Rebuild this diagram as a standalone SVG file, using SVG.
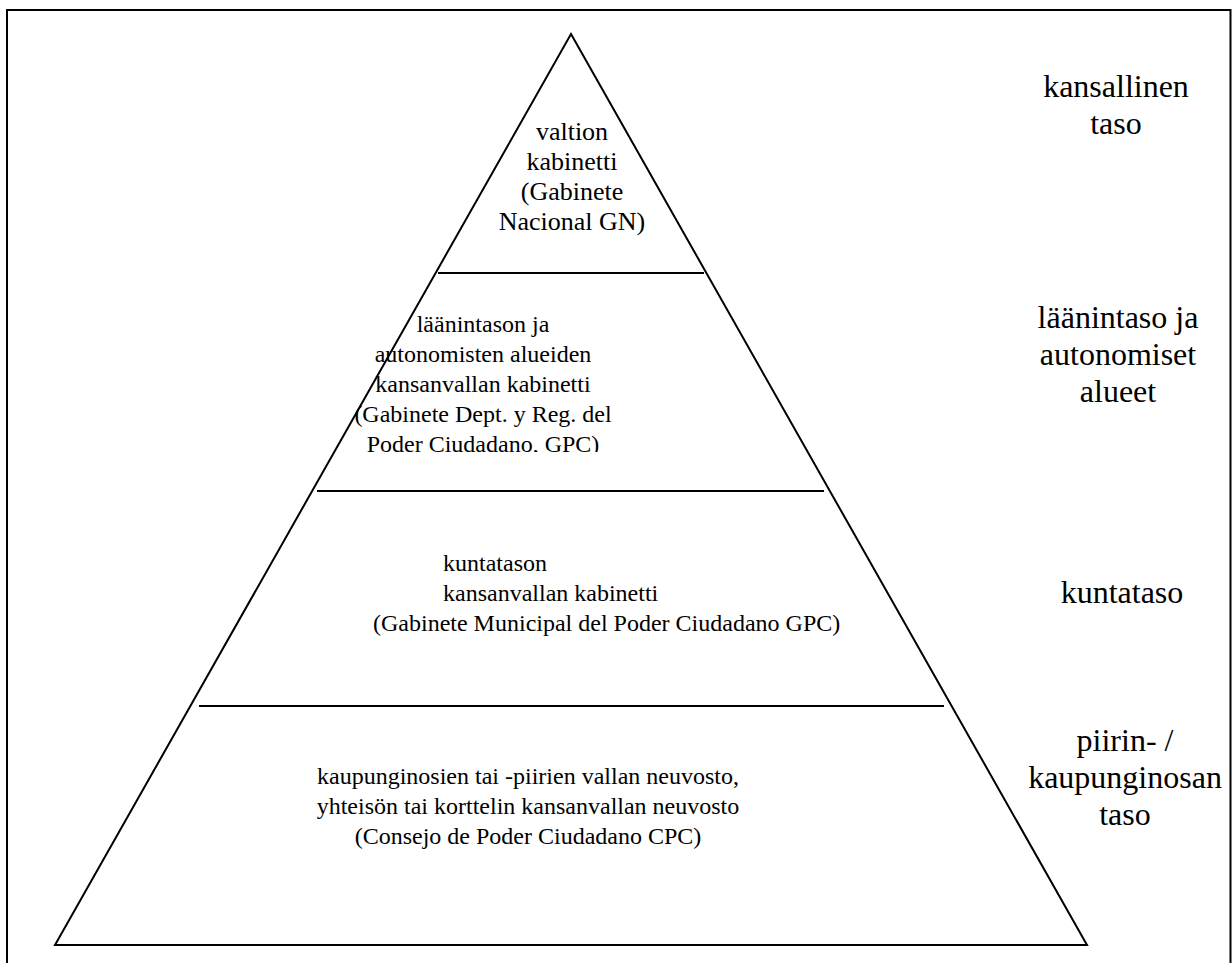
<svg xmlns="http://www.w3.org/2000/svg" width="1232" height="963" viewBox="0 0 1232 963">
<style>
.frame{fill:none;stroke:#000;stroke-width:2}
.edge{fill:none;stroke:#000;stroke-width:2;stroke-linejoin:miter}
.div{stroke:#000;stroke-width:2}
.t{font-family:"Liberation Serif","Times New Roman",serif;font-size:24px;fill:#000}
.big{font-size:26px}
.r{font-family:"Liberation Serif","Times New Roman",serif;font-size:32px;fill:#000;text-anchor:middle}
.c{text-anchor:middle}
</style>
<defs>
<clipPath id="clip2"><rect x="0" y="0" width="1232" height="452"/></clipPath>
</defs>
<rect width="1232" height="963" fill="#fff"/>
<rect class="frame" x="7" y="10" width="1223.5" height="970"/>
<g id="connectors">
<polygon id="pyramid" class="edge" points="571,34 1087,945 55,945"/>
<line class="div" x1="438" y1="273" x2="704" y2="273"/>
<line class="div" x1="317" y1="491" x2="824" y2="491"/>
<line class="div" x1="199" y1="706" x2="944" y2="706"/>
</g>
<g id="level1">
<text class="t big c" x="572" y="140">valtion</text>
<text class="t big c" x="572" y="170">kabinetti</text>
<text class="t big c" x="572" y="200">(Gabinete</text>
<text class="t big c" x="572" y="230">Nacional GN)</text>
</g>
<g id="level2" clip-path="url(#clip2)">
<text class="t c" x="483" y="332">läänintason ja</text>
<text class="t c" x="483" y="362">autonomisten alueiden</text>
<text class="t c" x="483" y="392">kansanvallan kabinetti</text>
<text class="t c" x="483" y="422">(Gabinete Dept. y Reg. del</text>
<text class="t c" x="483" y="452">Poder Ciudadano, GPC)</text>
</g>
<g id="level3">
<text class="t" x="443" y="571">kuntatason</text>
<text class="t" x="443" y="601">kansanvallan kabinetti</text>
<text class="t" x="373" y="631">(Gabinete Municipal del Poder Ciudadano GPC)</text>
</g>
<g id="level4">
<text class="t c" x="528" y="784">kaupunginosien tai -piirien vallan neuvosto,</text>
<text class="t c" x="528" y="814">yhteisön tai korttelin kansanvallan neuvosto</text>
<text class="t c" x="528" y="844">(Consejo de Poder Ciudadano CPC)</text>
</g>
<g id="label1">
<text class="r" x="1116" y="97">kansallinen</text>
<text class="r" x="1116" y="134">taso</text>
</g>
<g id="label2">
<text class="r" x="1118" y="328">läänintaso ja</text>
<text class="r" x="1118" y="365">autonomiset</text>
<text class="r" x="1118" y="402">alueet</text>
</g>
<g id="label3">
<text class="r" x="1122" y="603">kuntataso</text>
</g>
<g id="label4">
<text class="r" x="1125" y="751">piirin- /</text>
<text class="r" x="1125" y="788">kaupunginosan</text>
<text class="r" x="1125" y="825">taso</text>
</g>
</svg>
